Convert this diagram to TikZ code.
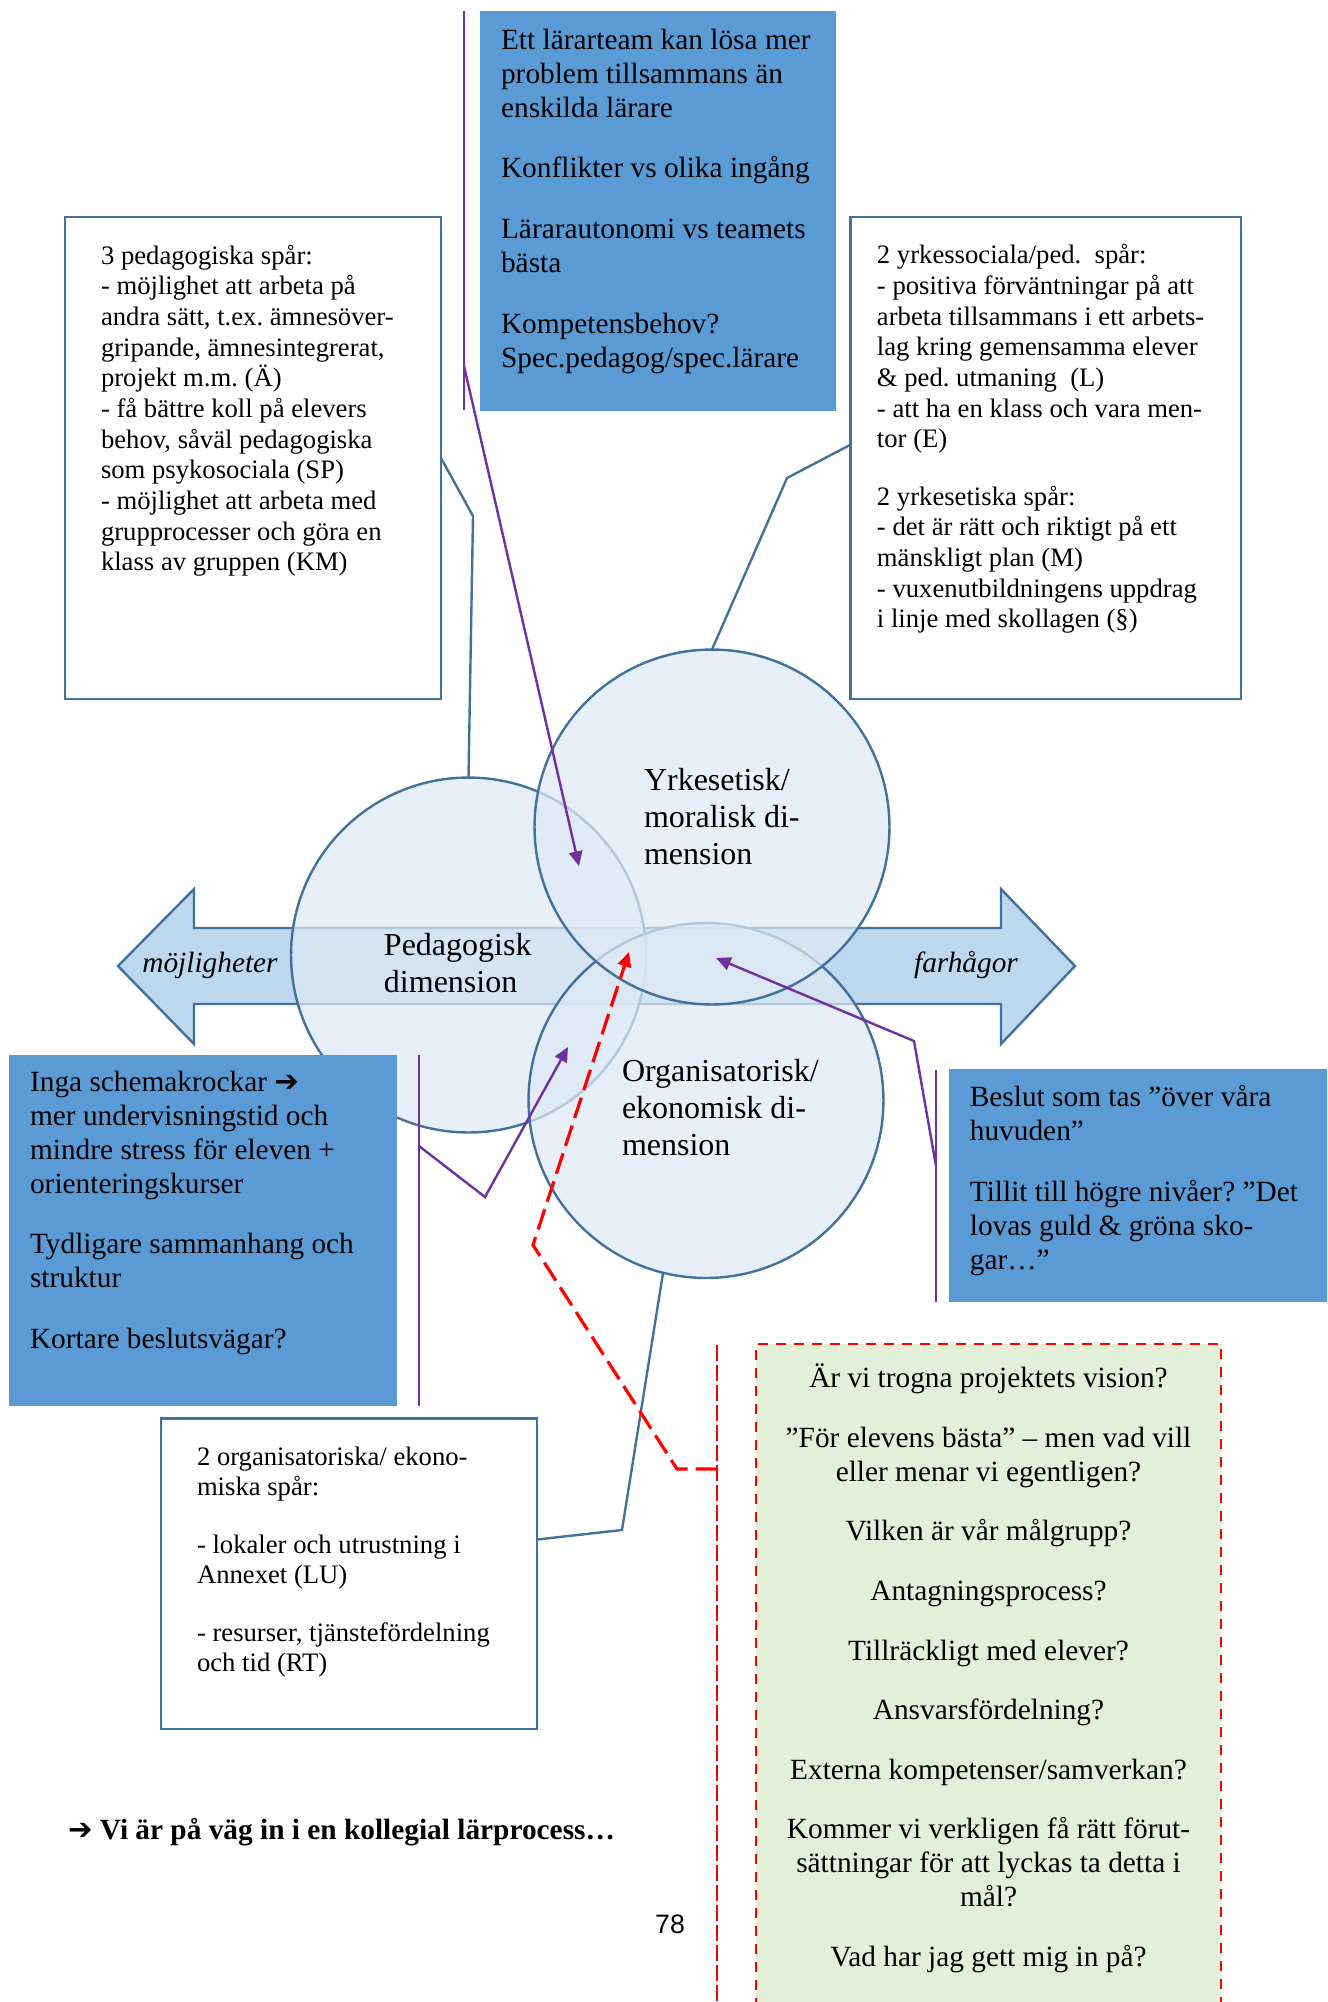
\documentclass[tikz,border=0pt]{standalone}
\usepackage{fontspec}
\setmainfont{Liberation Serif}
\setsansfont{Liberation Sans}
\newfontfamily\symfont{DejaVu Sans}
\usetikzlibrary{arrows.meta}
\definecolor{boxblue}{HTML}{5B9BD5}
\definecolor{edgeblue}{HTML}{41719C}
\definecolor{bandblue}{HTML}{BDD7EE}
\definecolor{dimblue}{HTML}{DFE9F5}
\definecolor{callpurple}{HTML}{7030A0}
\definecolor{notegreen}{HTML}{E2EFD9}
\frenchspacing
\tikzset{
  bluebox/.style={fill=boxblue},
  whitebox/.style={draw=edgeblue, fill=white, line width=1.1pt},
  notebox/.style={draw=red, fill=notegreen, line width=1pt, dash pattern=on 3.75pt off 3pt},
  dimcircle/.style={circle, draw=edgeblue, fill=dimblue, fill opacity=0.73, line width=0.9pt, minimum size=133.1pt},
  wtext/.style={font=\fontsize{10}{11.5}\selectfont, align=left, anchor=base west},
  btext/.style={font=\fontsize{11}{12.75}\selectfont, align=left, anchor=base west},
  ctext/.style={font=\fontsize{12}{13.9}\selectfont, align=left, anchor=base west},
  purpleline/.style={draw=callpurple, line width=0.9pt},
  blueline/.style={draw=edgeblue, line width=0.9pt},
  redline/.style={draw=red, line width=1.2pt, dash pattern=on 8pt off 3pt},
  tip/.style={-{Triangle[length=5.5pt,width=5pt]}}
}
\begin{document}
\begin{tikzpicture}[x=3.75pt, y=3.75pt, every node/.append style={inner sep=0pt, outer sep=0pt}]
\clip (0,0) rectangle (132.7,-200.2);
% double arrow behind the circles
\draw [edgeblue, fill=bandblue, line width=0.9pt] (11.8,-96.6) -- (19.4,-88.9) -- (19.4,-92.8) -- (100.1,-92.8) -- (100.1,-88.9) -- (107.5,-96.6) -- (100.1,-104.4) -- (100.1,-100.4) -- (19.4,-100.4) -- (19.4,-104.4) -- cycle;
\node [font=\fontsize{11}{13}\selectfont\itshape, anchor=base] (pos) at (21.0,-97.2) {möjligheter};
\node [font=\fontsize{11}{13}\selectfont\itshape, anchor=base] (neg) at (96.6,-97.2) {farhågor};
% the three dimensions
\node [dimcircle] (ped) at (46.85,-95.5) {};
\node [dimcircle] (org) at (70.6,-110.05) {};
\node [dimcircle] (yrk) at (71.2,-82.7) {};
\node [ctext] (pedtext) at ([xshift=-31.7pt, yshift=-14.2pt]ped.center) {Pedagogisk\\dimension};
\node [ctext] (yrktext) at ([xshift=-25.5pt, yshift=-14pt]yrk.center) {Yrkesetisk/\\moralisk di-\\mension};
\node [ctext] (orgtext) at ([xshift=-31.5pt, yshift=-20.6pt]org.center) {Organisatorisk/\\ekonomisk di-\\mension};
% white boxes
\node [whitebox, minimum width=141pt, minimum height=180.75pt] (pedbox) at (25.3,-45.8) {};
\node [wtext] (pedlist) at ([xshift=13.5pt, yshift=-132.7pt]pedbox.north west) {3 pedagogiska spår:\\
- möjlighet att arbeta på\\
andra sätt, t.ex. ämnesöver-\\
gripande, ämnesintegrerat,\\
projekt m.m. (Ä)\\
- få bättre koll på elevers\\
behov, såväl pedagogiska\\
som psykosociala (SP)\\
- möjlighet att arbeta med\\
grupprocesser och göra en\\
klass av gruppen (KM)};
\node [whitebox, minimum width=146.6pt, minimum height=180.75pt] (yrkbox) at (104.55,-45.8) {};
\node [wtext] (yrklist) at ([xshift=10.1pt, yshift=-154.1pt]yrkbox.north west) {2 yrkessociala/ped.\ \ spår:\\
- positiva förväntningar på att\\
arbeta tillsammans i ett arbets-\\
lag kring gemensamma elever\\
\& ped. utmaning\ \ (L)\\
- att ha en klass och vara men-\\
tor (E)\\[10pt]
2 yrkesetiska spår:\\
- det är rätt och riktigt på ett\\
mänskligt plan (M)\\
- vuxenutbildningens uppdrag\\
i linje med skollagen (§)};
\node [whitebox, minimum width=141pt, minimum height=116.6pt] (orgbox) at (34.9,-157.35) {};
\node [wtext] (orglist) at ([xshift=13.5pt, yshift=-95.2pt]orgbox.north west) {2 organisatoriska/ ekono-\\
miska spår:\\[10pt]
- lokaler och utrustning i\\
Annexet (LU)\\[10pt]
- resurser, tjänstefördelning\\
och tid (RT)};
% blue boxes
\node [bluebox, minimum width=133.5pt, minimum height=150pt] (team) at (65.8,-21.1) {};
\node [btext] (teamtext) at ([xshift=7.9pt, yshift=-133.6pt]team.north west) {Ett lärarteam kan lösa mer\\
problem tillsammans än\\
enskilda lärare\\[10pt]
Konflikter vs olika ingång\\[10pt]
Lärarautonomi vs teamets\\
bästa\\[10pt]
Kompetensbehov?\\
Spec.pedagog/spec.lärare};
\node [bluebox, minimum width=145.5pt, minimum height=131.6pt] (gain) at (20.3,-123.05) {};
\node [btext] (gaintext) at ([xshift=7.9pt, yshift=-110.1pt]gain.north west) {Inga schemakrockar {\symfont\bfseries ➔}\\
mer undervisningstid och\\
mindre stress för eleven +\\
orienteringskurser\\[10pt]
Tydligare sammanhang och\\
struktur\\[10pt]
Kortare beslutsvägar?};
\node [bluebox, minimum width=143pt, minimum height=87.4pt] (doubt) at (113.95,-118.55) {};
\node [btext] (doubttext) at ([xshift=7.9pt, yshift=-75.2pt]doubt.north west) {Beslut som tas ”över våra\\
huvuden”\\[10pt]
Tillit till högre nivåer? ”Det\\
lovas guld \& gröna sko-\\
gar…”};
% questions
\node [notebox, minimum width=174.4pt, minimum height=249.75pt] (quest) at (98.85,-167.7) {};
\node [btext, align=center, anchor=base] (questtext) at ([yshift=-233.4pt]quest.north) {Är vi trogna projektets vision?\\[9.6pt]
”För elevens bästa” – men vad vill\\
eller menar vi egentligen?\\[9.6pt]
Vilken är vår målgrupp?\\[9.6pt]
Antagningsprocess?\\[9.6pt]
Tillräckligt med elever?\\[9.6pt]
Ansvarsfördelning?\\[9.6pt]
Externa kompetenser/samverkan?\\[9.6pt]
Kommer vi verkligen få rätt förut-\\
sättningar för att lyckas ta detta i\\
mål?\\[9.6pt]
Vad har jag gett mig in på?};
\node [font=\fontsize{11}{13}\selectfont\bfseries, anchor=base west] (summary) at (6.8,-183.9) {{\symfont\bfseries ➔} Vi är på väg in i en kollegial lärprocess…};
\node [font=\fontsize{10}{12}\sffamily, anchor=base] (page) at (67.0,-193.3) {78};
% callout bars
\coordinate (tbarA) at (46.4,-1.1);
\coordinate (tbarB) at (46.4,-41.0);
\coordinate (tbarC) at (46.4,-36.6);
\coordinate (lbarA) at (41.9,-105.5);
\coordinate (lbarB) at (41.9,-140.6);
\coordinate (lbarC) at (41.9,-114.6);
\coordinate (rbarA) at (93.6,-107.0);
\coordinate (rbarB) at (93.6,-130.2);
\coordinate (rbarC) at (93.6,-116.6);
\coordinate (redA) at (71.7,-134.5);
\coordinate (redB) at (71.7,-201.0);
\coordinate (redC) at (71.7,-146.9);
\coordinate (tipA) at (57.9,-86.6);
\coordinate (tipB) at (56.8,-104.7);
\coordinate (tipC) at (71.6,-95.8);
\coordinate (tipD) at (62.9,-95.2);
\draw [purpleline] (tbarA) -- (tbarB);
\draw [purpleline] (lbarA) -- (lbarB);
\draw [purpleline] (rbarA) -- (rbarB);
\draw [draw=red, line width=0.8pt, dash pattern=on 6pt off 1.5pt] (redA) -- (redB);
% connectors
\draw [blueline] (pedbox.east) -- (47.3,-51.6) -- (ped.north);
\draw [blueline] ([yshift=4.9pt]yrkbox.west) -- (78.7,-47.8) -- (yrk.north);
\draw [blueline] ([yshift=12.75pt]orgbox.east) -- (62.2,-153.0) -- (org.256);
\draw [purpleline, tip] (tbarC) -- (tipA);
\draw [purpleline, tip] (lbarC) -- (48.5,-119.7) -- (tipB);
\draw [purpleline, tip] (rbarC) -- (91.4,-104.1) -- (tipC);
\draw [redline, tip] (redC) -- (67.7,-146.9) -- (53.3,-124.5) -- (tipD);
\end{tikzpicture}
\end{document}
